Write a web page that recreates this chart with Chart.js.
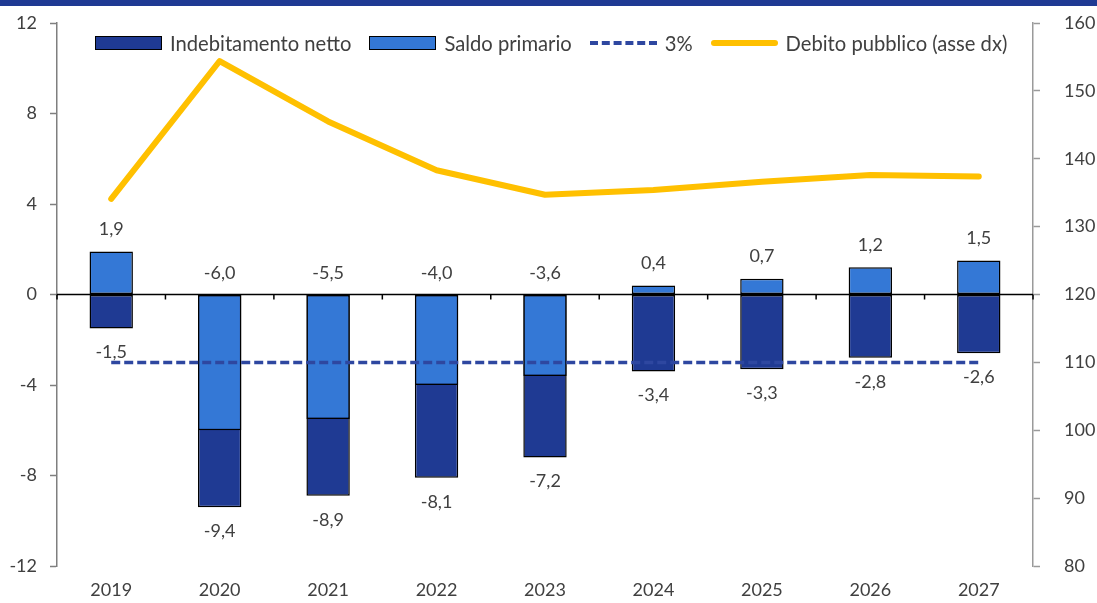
<!DOCTYPE html>
<html lang="it">
<head>
<meta charset="utf-8">
<title>Indebitamento netto, saldo primario e debito pubblico</title>
<script src="https://cdn.jsdelivr.net/npm/chart.js@4"></script>
<style>
  body { margin: 0; background: #fff; font-family: Lato, "Liberation Sans", sans-serif; }
  #contenitore { position: relative; width: 1097px; height: 603px; }
  #striscia { position: absolute; left: 0; top: 0; width: 1097px; height: 6px; background: #1f3a93; }
  #legenda { position: absolute; left: 95px; top: 31px; display: flex; align-items: center; color: #404040; font-size: 20.2px; white-space: nowrap; }
  #legenda .voce { display: flex; align-items: center; margin-right: 18px; }
  #legenda .simbolo { width: 67px; margin-right: 8px; box-sizing: border-box; }
</style>
</head>
<body>
<div id="contenitore">
  <canvas id="grafico"></canvas>
  <div id="striscia"></div>
  <div id="legenda"></div>
</div>
<script>
// Dati del grafico (valori in % del PIL)
var anni = ['2019', '2020', '2021', '2022', '2023', '2024', '2025', '2026', '2027'];
var indebitamentoNetto = [-1.5, -9.4, -8.9, -8.1, -7.2, -3.4, -3.3, -2.8, -2.6];
var saldoPrimario = [1.9, -6.0, -5.5, -4.0, -3.6, 0.4, 0.7, 1.2, 1.5];
var soglia3 = [-3, -3, -3, -3, -3, -3, -3, -3, -3];
var debitoPubblico = [134.1, 154.4, 145.5, 138.3, 134.7, 135.4, 136.6, 137.6, 137.4];
var nomiSerie = ['Indebitamento netto', 'Saldo primario', '3%', 'Debito pubblico (asse dx)'];
var tickSinistra = [-12, -8, -4, 0, 4, 8, 12];
var tickDestra = [80, 90, 100, 110, 120, 130, 140, 150, 160];

var coloreTesto = '#404040';
var fontBase = { family: 'Lato, "Liberation Sans", sans-serif', size: 18 };

// formato italiano con la virgola
function formatta(v) {
  return v.toFixed(1).replace('.', ',');
}

// Linea dello zero, tacche delle categorie ed etichette dei valori
var pluginEtichette = {
  id: 'etichette',
  afterDatasetsDraw: function(chart) {
    var ctx = chart.ctx;
    var area = chart.chartArea;
    var scalaX = chart.scales.x;
    var y0 = chart.scales.y.getPixelForValue(0);
    var passo = area.width / anni.length;

    ctx.save();
    ctx.strokeStyle = '#000';
    ctx.lineWidth = 1.5;
    ctx.beginPath();
    ctx.moveTo(area.left, y0);
    ctx.lineTo(area.right, y0);
    for (var i = 0; i <= anni.length; i++) {
      var xt = i < anni.length ? scalaX.getPixelForValue(i) - passo / 2 : area.right;
      ctx.moveTo(xt, y0);
      ctx.lineTo(xt, y0 + 5);
    }
    ctx.stroke();

    ctx.fillStyle = coloreTesto;
    ctx.font = fontBase.size + 'px ' + fontBase.family;
    ctx.textAlign = 'center';
    ctx.textBaseline = 'middle';

    // saldo primario: sopra la barra (o sopra lo zero)
    chart.getDatasetMeta(1).data.forEach(function(el, i) {
      var alto = Math.min(el.y, el.base);
      ctx.fillText(formatta(saldoPrimario[i]), el.x, alto - 22);
    });
    // indebitamento netto: sotto la barra
    chart.getDatasetMeta(0).data.forEach(function(el, i) {
      var basso = Math.max(el.y, el.base);
      ctx.fillText(formatta(indebitamentoNetto[i]), el.x, basso + 24);
    });
    ctx.restore();
  }
};

// larghezza fissa degli assi verticali, senza margini extra per le etichette
function fissaAsse(larghezza) {
  return function(scale) {
    scale.width = larghezza;
    scale.paddingTop = 0;
    scale.paddingBottom = 0;
  };
}

var config = {
  type: 'bar',
  data: {
    labels: anni,
    datasets: [{
      label: nomiSerie[0],
      data: indebitamentoNetto,
      backgroundColor: '#1f3a93',
      borderColor: '#000',
      borderWidth: 1.5,
      borderSkipped: false,
      grouped: false,
      barPercentage: 0.4,
      categoryPercentage: 1,
      order: 3,
      yAxisID: 'y'
    }, {
      label: nomiSerie[1],
      data: saldoPrimario,
      backgroundColor: '#3478d6',
      borderColor: '#000',
      borderWidth: 1.5,
      borderSkipped: false,
      grouped: false,
      barPercentage: 0.4,
      categoryPercentage: 1,
      order: 2,
      yAxisID: 'y'
    }, {
      type: 'line',
      label: nomiSerie[2],
      data: soglia3,
      borderColor: '#2e47a0',
      borderWidth: 3.5,
      borderDash: [9, 4],
      pointRadius: 0,
      fill: false,
      order: 1,
      yAxisID: 'y'
    }, {
      type: 'line',
      label: nomiSerie[3],
      data: debitoPubblico,
      borderColor: '#ffc000',
      borderWidth: 6,
      borderJoinStyle: 'round',
      borderCapStyle: 'round',
      pointRadius: 0,
      tension: 0,
      fill: false,
      order: 0,
      yAxisID: 'y1'
    }]
  },
  options: {
    responsive: true,
    maintainAspectRatio: false,
    animation: false,
    layout: { padding: { top: 23, left: 0, right: 0, bottom: 0 } },
    plugins: {
      legend: { display: false },
      tooltip: { enabled: false }
    },
    scales: {
      x: {
        grid: { display: false },
        border: { display: false },
        ticks: { color: coloreTesto, font: fontBase, padding: 5, maxRotation: 0 },
        afterFit: function(scale) { scale.height = 37; }
      },
      y: {
        position: 'left',
        min: -12,
        max: 12,
        afterBuildTicks: function(scale) {
          scale.ticks = tickSinistra.map(function(v) { return { value: v }; });
        },
        grid: { drawOnChartArea: false, drawTicks: true, tickLength: 7, tickColor: '#7f7f7f', tickWidth: 1.5 },
        border: { display: true, color: '#7f7f7f', width: 1.5 },
        ticks: { color: coloreTesto, font: fontBase, padding: 13 },
        afterFit: fissaAsse(57)
      },
      y1: {
        position: 'right',
        min: 80,
        max: 160,
        afterBuildTicks: function(scale) {
          scale.ticks = tickDestra.map(function(v) { return { value: v }; });
        },
        grid: { drawOnChartArea: false, drawTicks: true, tickLength: 7, tickColor: '#9a9a9a', tickWidth: 1.5 },
        border: { display: true, color: '#9a9a9a', width: 1.5 },
        ticks: { color: coloreTesto, font: fontBase, padding: 24 },
        afterFit: fissaAsse(64)
      }
    }
  },
  plugins: [pluginEtichette]
};

var ctx = document.getElementById('grafico').getContext('2d');
var myChart = new Chart(ctx, config);

// Legenda HTML costruita dai dataset (sta dentro l'area del grafico)
var legenda = document.getElementById('legenda');
myChart.data.datasets.forEach(function(ds) {
  var voce = document.createElement('div');
  voce.className = 'voce';
  var simbolo = document.createElement('span');
  simbolo.className = 'simbolo';
  if (ds.type === 'line') {
    if (ds.borderDash) {
      simbolo.style.borderTop = '4px dashed ' + ds.borderColor;
      simbolo.style.height = '0px';
    } else {
      simbolo.style.height = '6px';
      simbolo.style.background = ds.borderColor;
      simbolo.style.borderRadius = '3px';
    }
  } else {
    simbolo.style.height = '14px';
    simbolo.style.background = ds.backgroundColor;
    simbolo.style.border = '1.5px solid #000';
  }
  var testo = document.createElement('span');
  testo.textContent = ds.label;
  voce.appendChild(simbolo);
  voce.appendChild(testo);
  legenda.appendChild(voce);
});
</script>
</body>
</html>
